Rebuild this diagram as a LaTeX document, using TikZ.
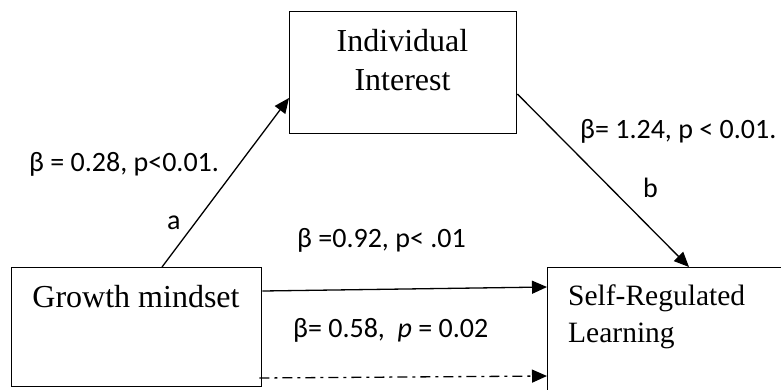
\documentclass[tikz,border=0pt]{standalone}
\usepackage{fontspec}
\setmainfont{Liberation Serif}
\newfontfamily\labfont{Carlito}
\usetikzlibrary{arrows.meta,calc}
\begin{document}
\begin{tikzpicture}[x=1pt,y=-1pt,
  box/.style={draw,line width=1.4pt,inner sep=0pt,anchor=north west},
  boxtext/.style={inner sep=0pt,font=\fontsize{32}{38.4}\selectfont},
  lab/.style={inner sep=0pt,anchor=base west,font=\labfont\fontsize{28}{33}\selectfont},
  conn/.style={line width=1.3pt,-{Triangle[length=15pt,width=13pt]}},
  dashconn/.style={conn,dash pattern=on 10pt off 5pt on 3pt off 5pt},
]
\useasboundingbox (0,0) rectangle (781,389);
\clip (0,0) rectangle (781,389);
\node[box,minimum width=227pt,minimum height=122pt] (ii) at (289,11) {};
\node[box,minimum width=250pt,minimum height=119pt] (gm) at (11,267) {};
\node[box,minimum width=260pt,minimum height=150pt] (srl) at (547,267) {};
\node[boxtext,anchor=base,align=center] (iit) at (402.5,90) {Individual\\Interest};
\node[boxtext,anchor=base] (gmt) at (136,307) {Growth mindset};
\node[boxtext,anchor=base west,align=left,font=\fontsize{29.5}{37}\selectfont] (srlt) at (568,342) {Self-Regulated\\Learning};
\draw[conn] ($(gm.north west)+(151,0)$) -- ($(ii.north west)+(0,87)$);
\draw[conn] ($(ii.north east)+(0,83)$) -- ($(srl.north west)+(142,0)$);
\draw[conn] ($(gm.north east)+(0,24)$) -- ($(srl.north west)+(0,20)$);
\draw[dashconn] ($(gm.north east)+(-3,111)$) -- ($(srl.north west)+(0,109)$);
\node[lab] (l1) at (29,171) {β = 0.28, p<0.01.};
\node[lab] (la) at (167,229) {a};
\node[lab] (l2) at (580,138) {β= 1.24, p < 0.01.};
\node[lab] (lb) at (643,197) {b};
\node[lab] (l3) at (297,247) {β =0.92, p< .01};
\node[lab] (l4) at (293,337) {β= 0.58,\ \ {\itshape p} = 0.02};
\end{tikzpicture}
\end{document}
